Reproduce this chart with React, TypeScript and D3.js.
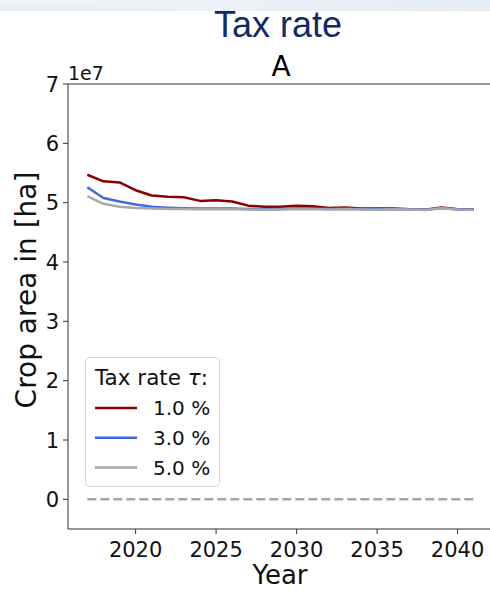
import React from "react";
import * as d3 from "d3";

const years = d3.range(2017, 2042);
const rate1 = [5.47, 5.36, 5.34, 5.21, 5.12, 5.10, 5.09, 5.03, 5.04, 5.02, 4.95, 4.93, 4.93, 4.95, 4.94, 4.91, 4.92, 4.90, 4.90, 4.90, 4.89, 4.88, 4.92, 4.89, 4.89];
const rate3 = [5.26, 5.08, 5.02, 4.97, 4.93, 4.915, 4.905, 4.90, 4.90, 4.90, 4.895, 4.89, 4.895, 4.90, 4.90, 4.895, 4.90, 4.895, 4.89, 4.895, 4.89, 4.88, 4.91, 4.89, 4.885];
const rate5 = [5.11, 4.98, 4.93, 4.91, 4.90, 4.895, 4.895, 4.89, 4.89, 4.89, 4.885, 4.88, 4.885, 4.89, 4.89, 4.885, 4.89, 4.885, 4.88, 4.89, 4.885, 4.875, 4.905, 4.885, 4.88];
const seriesNames = ["1.0 %", "3.0 %", "5.0 %"];
const seriesColors = ["#8b0000", "#4169e1", "#a9a9a9"];
const xTicks = [2020, 2025, 2030, 2035, 2040];
const yTicks = [0, 1, 2, 3, 4, 5, 6, 7];

const W = 490;
const H = 590;
const left = 68;
const top = 84;
const right = 493;
const bottom = 529;
const font = "DejaVu Sans, sans-serif";
const ink = "#111";

export default function App() {
  const x = d3.scaleLinear().domain([2015.8, 2042.2]).range([left, right]);
  const y = d3.scaleLinear().domain([-0.5, 7]).range([bottom, top]);
  const line = d3
    .line<number>()
    .x((_, i) => x(years[i]))
    .y((d) => y(d));
  const series = [rate1, rate3, rate5];

  return (
    <svg
      width={W}
      height={H}
      style={{ position: "absolute", left: 0, top: 0, background: "#fff" }}
    >
      <defs>
        <linearGradient id="band" x1="0" x2="1" y1="0" y2="0">
          <stop offset="0" stopColor="#f1f5f9" />
          <stop offset="1" stopColor="#e4ecf4" />
        </linearGradient>
      </defs>
      <rect x={0} y={0} width={W} height={11} fill="url(#band)" />
      <polygon points="0,11 180,11 178,9 0,4" fill="#e9eff5" />

      <text
        x={278}
        y={37}
        textAnchor="middle"
        fontFamily="Liberation Sans, sans-serif"
        fontSize={36}
        fill="#0e2a6a"
      >
        Tax rate
      </text>
      <text x={281} y={76} textAnchor="middle" fontFamily={font} fontSize={28} fill="#000">
        A
      </text>
      <text x={68} y={80} fontFamily={font} fontSize={19} fill={ink}>
        1e7
      </text>

      {/* zero reference line */}
      <line
        x1={x(2017)}
        x2={x(2041)}
        y1={y(0)}
        y2={y(0)}
        stroke="#a3a3b3"
        strokeWidth={2.5}
        strokeDasharray="9,4"
      />

      {series.map((s, i) => (
        <path
          key={i}
          d={line(s) || ""}
          fill="none"
          stroke={seriesColors[i]}
          strokeWidth={2.5}
          strokeLinejoin="round"
        />
      ))}

      {/* axes frame */}
      <path
        d={`M${left},${bottom}V${top}H${right}`}
        fill="none"
        stroke="#333"
        strokeWidth={1}
      />
      <line x1={left} x2={right} y1={bottom} y2={bottom} stroke="#333" strokeWidth={1.2} />

      {yTicks.map((t) => (
        <g key={t}>
          <line x1={left - 5} x2={left} y1={y(t)} y2={y(t)} stroke="#333" />
          <text
            x={left - 9}
            y={y(t) + 7.5}
            textAnchor="end"
            fontFamily={font}
            fontSize={21}
            fill={ink}
          >
            {t}
          </text>
        </g>
      ))}
      {xTicks.map((t) => (
        <g key={t}>
          <line x1={x(t)} x2={x(t)} y1={bottom} y2={bottom + 5} stroke="#333" />
          <text
            x={x(t)}
            y={bottom + 28}
            textAnchor="middle"
            fontFamily={font}
            fontSize={21}
            fill={ink}
          >
            {t}
          </text>
        </g>
      ))}

      <text x={280} y={584} textAnchor="middle" fontFamily={font} fontSize={26} fill={ink}>
        Year
      </text>
      <text
        transform="translate(36,290) rotate(-90)"
        textAnchor="middle"
        fontFamily={font}
        fontSize={28}
        fill={ink}
      >
        Crop area in [ha]
      </text>

      {/* legend */}
      <rect
        x={85.5}
        y={357.5}
        width={134}
        height={129}
        rx={4}
        fill="#fff"
        fillOpacity={0.85}
        stroke="#d4d4d4"
      />
      <text x={95} y={385} fontFamily={font} fontSize={21.5} fill={ink}>
        Tax rate <tspan fontStyle="italic">τ</tspan>:
      </text>
      {seriesNames.map((n, i) => (
        <g key={n} transform={`translate(0,${408 + i * 29.8})`}>
          <line x1={95} x2={137} y1={0} y2={0} stroke={seriesColors[i]} strokeWidth={2.5} />
          <text x={153} y={7} fontFamily={font} fontSize={20} fill={ink}>
            {n}
          </text>
        </g>
      ))}
    </svg>
  );
}
